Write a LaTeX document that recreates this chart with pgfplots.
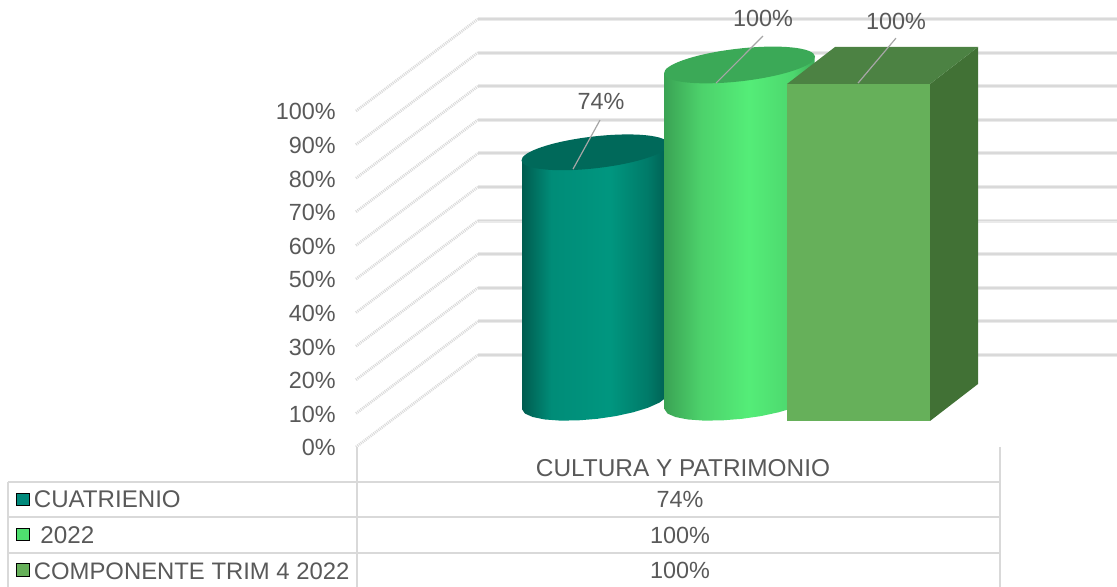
\documentclass[border=0pt]{standalone}
\usepackage{fontspec}
\setmainfont{Liberation Sans}
\usepackage{pgfplots}
\pgfplotsset{compat=1.18}
\usepackage{xcolor}

\definecolor{txt}{HTML}{595959}
\definecolor{gridc}{HTML}{D9D9D9}
\definecolor{leader}{HTML}{A6A6A6}
\definecolor{tealtop}{HTML}{00695A}
\definecolor{greentop}{HTML}{3BA957}
\definecolor{boxfront}{HTML}{66B05A}
\definecolor{boxtop}{HTML}{4C8243}
\definecolor{boxside}{HTML}{417135}
\definecolor{keyteal}{HTML}{00897B}
\definecolor{keygreen}{HTML}{4FDF6F}

\pgfdeclarehorizontalshading{tealcyl}{100bp}{
  rgb(0bp)=(0,0.36,0.31);
  rgb(25bp)=(0,0.36,0.31);
  rgb(35bp)=(0,0.55,0.47);
  rgb(55bp)=(0,0.59,0.50);
  rgb(68bp)=(0,0.48,0.41);
  rgb(75bp)=(0,0.37,0.32);
  rgb(100bp)=(0,0.37,0.32)}
\pgfdeclarehorizontalshading{greencyl}{100bp}{
  rgb(0bp)=(0.23,0.64,0.33);
  rgb(25bp)=(0.23,0.64,0.33);
  rgb(37bp)=(0.30,0.82,0.42);
  rgb(53bp)=(0.33,0.93,0.47);
  rgb(68bp)=(0.30,0.84,0.43);
  rgb(75bp)=(0.24,0.68,0.35);
  rgb(100bp)=(0.24,0.68,0.35)}

\pgfdeclareplotmark{cyltop}{%
  \pgfpathellipse{\pgfpointorigin}
    {\pgfpointpolar{6.5}{\pgfplotmarksize}}
    {\pgfpointpolar{96.5}{0.215\pgfplotmarksize}}
  \pgfusepathqfill}

% one level of the back wall: front value, back value
\newcommand\wall[2]{%
  \addplot[color=gridc!55, line width=2pt] coordinates {(478,#2) (1117,#2)};
  \addplot[color=gridc, line width=0.9pt] coordinates {(478,#2) (1117,#2)};
  \addplot[color=gridc, line width=1.4pt, dash pattern=on 0.5pt off 0.5pt] coordinates {(356,#1) (478,#2)};
}

\begin{document}
\begin{tikzpicture}
\useasboundingbox (0,0) rectangle (558.5pt,293.5pt);
\begin{axis}[
    at={(0,0)}, anchor=south west,
    scale only axis,
    width=558.5pt,
    height=293.5pt,
    xmin=0, xmax=1117,
    ymin=-41.67, ymax=133.04,
    clip=false,
    clip mode=individual,
    axis line style={draw=none},
    major tick length=0pt,
    xtick=\empty,
    ytick={0,10,...,100},
    yticklabel={\pgfmathprintnumber[assume math mode=true]{\tick}\%},
    yticklabel style={anchor=east, inner sep=0pt, xshift=168pt, yshift=-0.4pt, font=\fontsize{11.7}{13}\selectfont, text=txt},
    nodes={font=\fontsize{11.7}{13}\selectfont, text=txt, inner sep=0pt},
]
% back wall
\wall{0}{27.38}
\wall{10}{37.38}
\wall{20}{47.38}
\wall{30}{57.38}
\wall{40}{67.38}
\wall{50}{77.38}
\wall{60}{87.38}
\wall{70}{97.38}
\wall{80}{107.38}
\wall{90}{117.38}
\wall{100}{127.38}

% data table lines
\addplot[color=gridc, line width=1pt] coordinates {(8,-10.42) (1000,-10.42)};
\addplot[color=gridc, line width=1pt] coordinates {(8,-20.83) (1000,-20.83)};
\addplot[color=gridc, line width=1pt] coordinates {(8,-31.55) (1000,-31.55)};
\addplot[color=gridc, line width=1pt] coordinates {(8,-10.42) (8,-41.67)};
\addplot[color=gridc, line width=1pt] coordinates {(357,0) (357,-41.67)};
\addplot[color=gridc, line width=1pt] coordinates {(1000,0) (1000,-41.67)};

% CUATRIENIO, 74
\addplot[draw=none, shade, shading=tealcyl] coordinates {
  (522,11.23) (525,9.93) (532.8,8.91) (544.8,8.19) (560.2,7.85) (578.1,7.92) (597,8.37)
  (615.9,9.2) (633.3,10.34) (648.1,11.69) (659.3,13.19) (666.1,14.71) (668,16.17)
  (668,90.17) (522,85.23)} --cycle;
\addplot[only marks, mark=cyltop, mark size=37pt, color=tealtop] coordinates {(595,87.7)};

% 2022, 100
\addplot[draw=none, shade, shading=greencyl] coordinates {
  (664.5,11.23) (667.6,9.93) (675.6,8.91) (687.9,8.19) (703.8,7.85) (722.1,7.92) (741.6,8.37)
  (761,9.2) (778.8,10.34) (794,11.69) (805.5,13.19) (812.5,14.71) (814.5,16.17)
  (814.5,116.17) (664.5,111.23)} --cycle;
\addplot[only marks, mark=cyltop, mark size=38pt, color=greentop] coordinates {(739.5,113.7)};

% COMPONENTE TRIM 4 2022, 100
\addplot[draw=none, fill=boxside] coordinates {(930,7.74) (978,18.75) (978,119.05) (930,108.04)} --cycle;
\addplot[draw=none, fill=boxtop] coordinates {(787,108.04) (930,108.04) (978,119.05) (835,119.05)} --cycle;
\addplot[draw=none, fill=boxfront] coordinates {(787,7.74) (930,7.74) (930,108.04) (787,108.04)} --cycle;

% leader lines
\addplot[color=leader, line width=0.6pt] coordinates {(573,82.7) (600,97.3)};
\addplot[color=leader, line width=0.6pt] coordinates {(716,108.3) (763,122.3)};
\addplot[color=leader, line width=0.6pt] coordinates {(858,108.3) (896,121.7)};

% data labels
\node at (axis cs:601,102.7) {74\%};
\node at (axis cs:763,127.4) {100\%};
\node at (axis cs:896,126.8) {100\%};

% data table text
\node[font=\fontsize{12.2}{13}\selectfont] at (axis cs:683,-6.2) {CULTURA Y PATRIMONIO};
\node at (axis cs:680,-15.7) {74\%};
\node at (axis cs:680,-26.2) {100\%};
\node at (axis cs:680,-36.8) {100\%};
\node[anchor=west, font=\fontsize{12.05}{13}\selectfont] at (axis cs:33.5,-15.6) {CUATRIENIO};
\node[anchor=west, font=\fontsize{12.1}{13}\selectfont] at (axis cs:40,-26.3) {2022};
\node[anchor=west, font=\fontsize{11.93}{13}\selectfont] at (axis cs:33.5,-37) {COMPONENTE TRIM 4 2022};

% legend keys
\addplot[only marks, mark=square*, mark size=3.2pt, mark options={draw=none, fill=keyteal}] coordinates {(22.5,-15.6)};
\addplot[only marks, mark=square*, mark size=3.2pt, mark options={draw=none, fill=keygreen}] coordinates {(22.5,-26.0)};
\addplot[only marks, mark=square*, mark size=3.2pt, mark options={draw=none, fill=boxfront}] coordinates {(22.5,-36.7)};
\end{axis}
\end{tikzpicture}
\end{document}
